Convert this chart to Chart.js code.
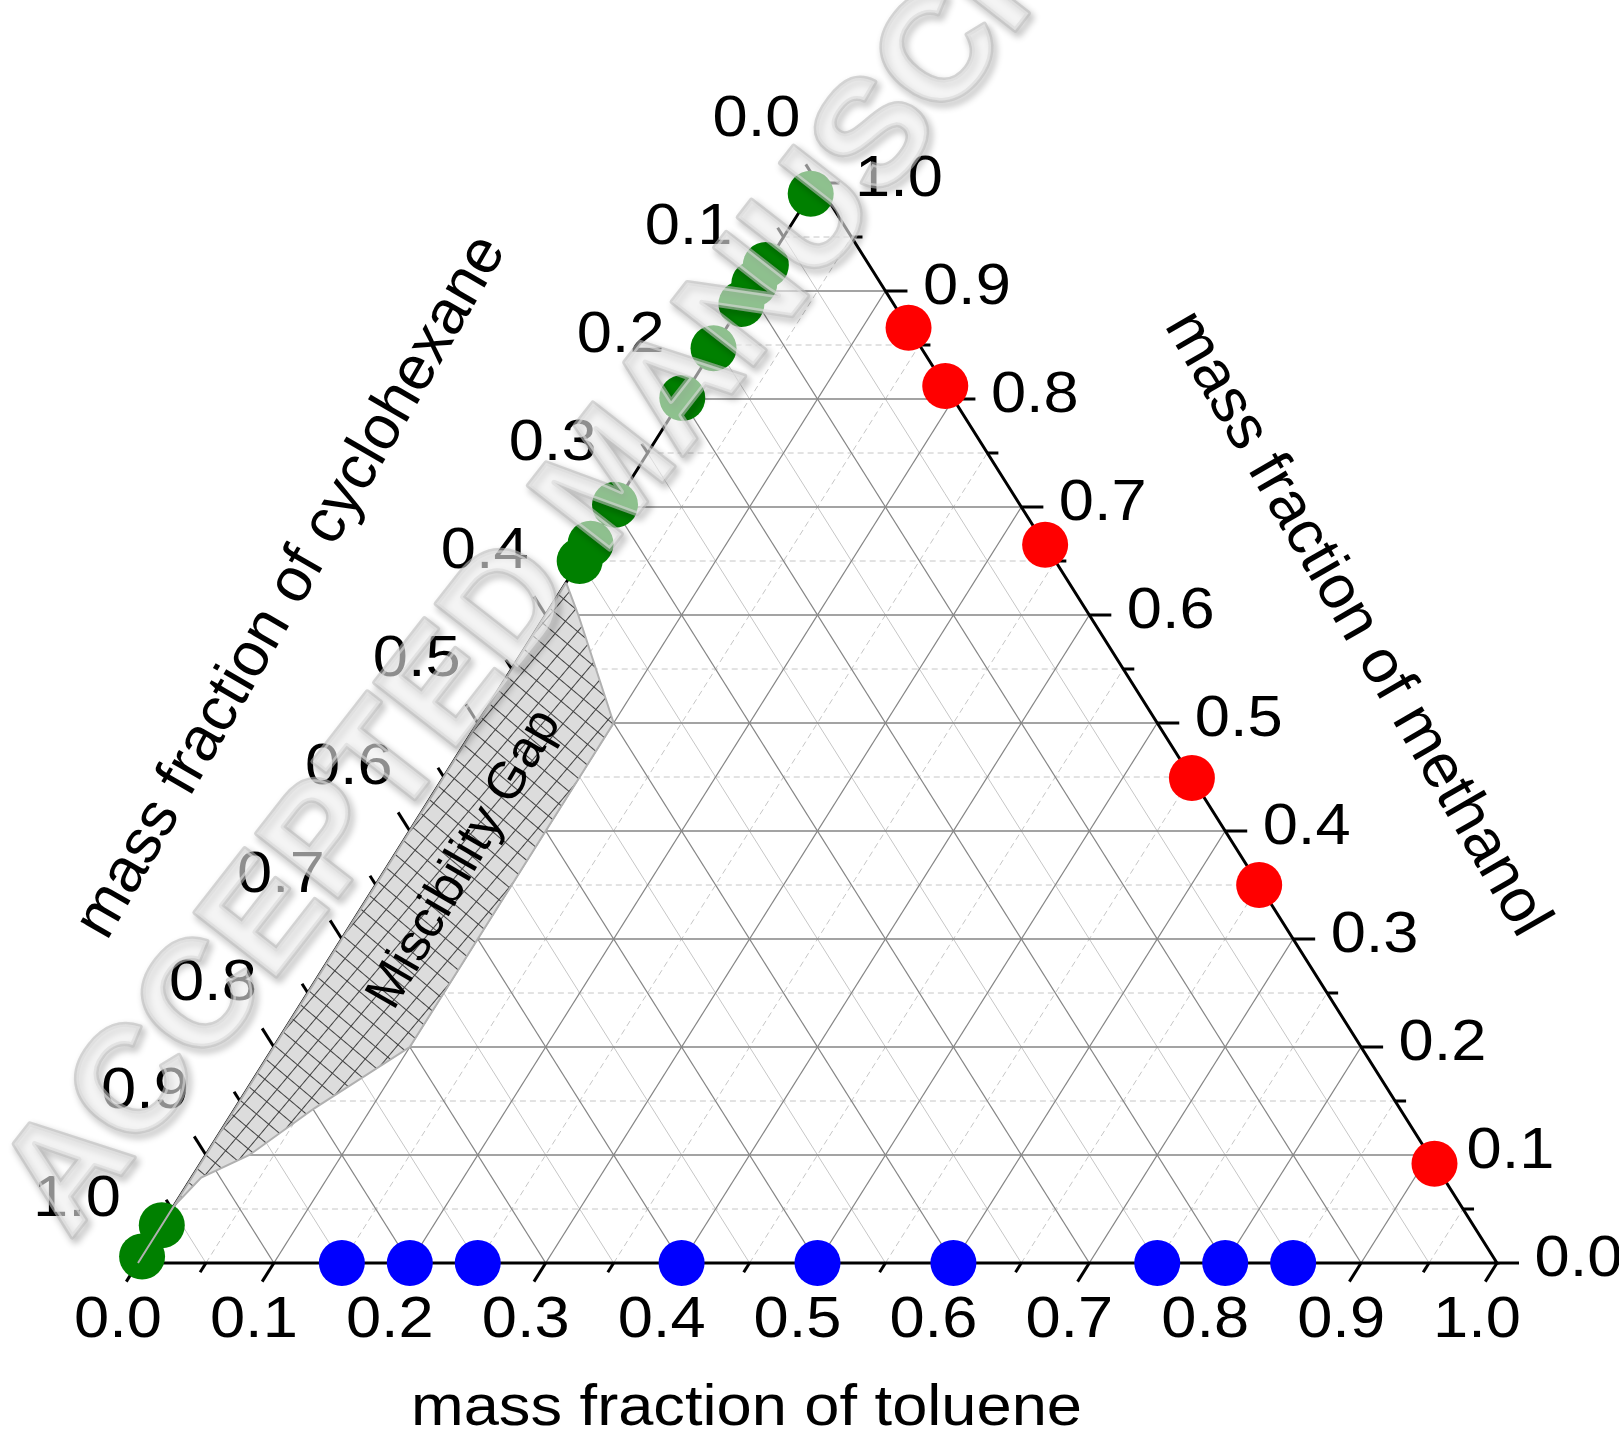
<!DOCTYPE html>
<html>
<head>
<meta charset="utf-8">
<script src="https://cdn.jsdelivr.net/npm/chart.js@4.4.0/dist/chart.umd.min.js"></script>
<style>
html,body{margin:0;padding:0;background:#ffffff;}
#wrap{width:1619px;height:1436px;position:relative;}
canvas{display:block;}
</style>
</head>
<body>
<div id="wrap"><canvas id="c" width="1619" height="1436"></canvas></div>
<script>
// ---------------- data ----------------
const tickValues = [0, 0.1, 0.2, 0.3, 0.4, 0.5, 0.6, 0.7, 0.8, 0.9, 1.0];
const tickLabels = ['0.0','0.1','0.2','0.3','0.4','0.5','0.6','0.7','0.8','0.9','1.0'];
const minorValues = [0.05, 0.15, 0.25, 0.35, 0.45, 0.55, 0.65, 0.75, 0.85, 0.95];

const titleBottom = 'mass fraction of toluene';
const titleLeft = 'mass fraction of cyclohexane';
const titleRight = 'mass fraction of methanol';
const gapLabel = 'Miscibility Gap';
const watermarkText = 'ACCEPTED MANUSCRIPT';

// cyclohexane + methanol binary (toluene = 0): methanol mass fraction
const greenMethanol = [0.99, 0.924, 0.907, 0.888, 0.847, 0.801, 0.702, 0.666, 0.650, 0.035, 0.006];
// toluene + methanol binary (cyclohexane = 0): methanol mass fraction
const redMethanol = [0.866, 0.812, 0.665, 0.449, 0.350, 0.092];
// cyclohexane + toluene binary (methanol = 0): toluene mass fraction
const blueToluene = [0.15, 0.20, 0.25, 0.40, 0.50, 0.60, 0.75, 0.80, 0.85];

// miscibility gap outline (toluene, methanol)
const gapToluene  = [0,    0.024, 0.10, 0.10, 0.10, 0.10, 0.10, 0.10, 0.058, 0.032, 0.007, 0,     0];
const gapMethanol = [0.63, 0.60,  0.50, 0.45, 0.40, 0.35, 0.25, 0.20, 0.143, 0.10,  0.079, 0.052, 0];

// ---------------- helpers ----------------
// ternary (toluene t, methanol m) -> cartesian for the chart's linear scales
function tern(t, m) { return { x: t + m / 2, y: m }; }

const S = 1.0894;           // horizontal stretch of the original figure's tick text
const FONT = '"Liberation Sans", Arial, Helvetica, sans-serif';

const datasets = [];
function lineDS(pts, color, width, dash, order) {
  datasets.push({
    data: pts, showLine: true, borderColor: color, borderWidth: width,
    borderDash: dash || [], pointRadius: 0, fill: false, order: order,
    clip: false, tension: 0
  });
}

// grid lines
const majorInner = tickValues.filter(v => v > 0 && v < 1);
const GRID_MAJOR = '#858585', GRID_MINOR = '#c6c6c6';
minorValues.forEach(v => {
  lineDS([tern(0, v), tern(1 - v, v)], GRID_MINOR, 1, [6, 4], 60);        // const methanol
  lineDS([tern(v, 0), tern(v, 1 - v)], GRID_MINOR, 1, [6, 4], 60);        // const toluene
  lineDS([tern(1 - v, 0), tern(0, 1 - v)], GRID_MINOR, 1, [], 60);        // const cyclohexane
});
majorInner.forEach(v => {
  lineDS([tern(0, v), tern(1 - v, v)], GRID_MAJOR, 1.3, [], 50);
  lineDS([tern(v, 0), tern(v, 1 - v)], GRID_MAJOR, 1.3, [], 50);
  lineDS([tern(1 - v, 0), tern(0, 1 - v)], GRID_MAJOR, 1.3, [], 50);
});

// axes
datasets.push({
  data: [tern(0, 0), tern(1, 0), tern(0, 1), tern(0, 0)], showLine: true,
  borderColor: '#000', borderWidth: 3, pointRadius: 0, fill: false, order: 30,
  clip: false, borderJoinStyle: 'miter'
});
// ticks
const DB_MAJ = 0.01725, DB_MIN = 0.0086, DR_MAJ = 0.0162, DR_MIN = 0.0081;
function addTicks(vals, db, dr) {
  vals.forEach(v => {
    lineDS([tern(v, 0), tern(v, -db)], '#000', 3, [], 30);                 // toluene (bottom)
    lineDS([tern(1 - v, v), tern(1 - v + dr, v)], '#000', 3, [], 30);      // methanol (right)
    lineDS([tern(0, 1 - v), tern(-db, 1 - v + db)], '#000', 3, [], 30);    // cyclohexane (left)
  });
}
addTicks(tickValues, DB_MAJ, DR_MAJ);
addTicks(minorValues, DB_MIN, DR_MIN);

// hatch pattern for the miscibility gap
function makeHatch() {
  const s = 16;
  const c = document.createElement('canvas');
  c.width = s; c.height = s;
  const g = c.getContext('2d');
  g.fillStyle = '#dcdcdc'; g.fillRect(0, 0, s, s);
  g.strokeStyle = '#404040'; g.lineWidth = 1;
  g.beginPath(); g.moveTo(0, 0.5); g.lineTo(s, 0.5); g.moveTo(0.5, 0); g.lineTo(0.5, s); g.stroke();
  const p = document.getElementById('c').getContext('2d').createPattern(c, 'repeat');
  if (p.setTransform) p.setTransform(new DOMMatrix().rotateSelf(40));
  return p;
}
const gapPts = gapToluene.map((t, i) => tern(t, gapMethanol[i]));
gapPts.push(gapPts[0]);
datasets.push({
  data: gapPts, showLine: true, borderColor: '#b0b0b0', borderWidth: 2,
  backgroundColor: makeHatch(), fill: 'shape', pointRadius: 0, order: 0, clip: false
});

// data points
function pointDS(pts, color) {
  datasets.push({
    data: pts, showLine: false, pointRadius: 23, pointBackgroundColor: color,
    pointBorderWidth: 0, pointBorderColor: color, backgroundColor: color, borderColor: color,
    order: 5, clip: false
  });
}
pointDS(greenMethanol.map(m => tern(0, m)), '#008000');
pointDS(redMethanol.map(m => tern(1 - m, m)), '#ff0000');
pointDS(blueToluene.map(t => tern(t, 0)), '#0000ff');

// ---------------- text plugin ----------------
function drawText(ctx, text, x, y, angDeg, size, align, baseline, stretch) {
  ctx.save();
  ctx.translate(x, y);
  ctx.scale(stretch === undefined ? S : stretch, 1);
  ctx.rotate(angDeg * Math.PI / 180);
  ctx.font = size + 'px ' + FONT;
  ctx.textAlign = align; ctx.textBaseline = baseline;
  ctx.fillStyle = '#000';
  ctx.fillText(text, 0, 0);
  ctx.restore();
}

const ternaryText = {
  id: 'ternaryText',
  afterDatasetsDraw(chart) {
    const ctx = chart.ctx, xs = chart.scales.x, ys = chart.scales.y;
    const P = p => [xs.getPixelForValue(p.x), ys.getPixelForValue(p.y)];
    tickValues.forEach((v, i) => {
      let [X, Y] = P(tern(v, 0));
      drawText(ctx, tickLabels[i], X - 20, Y + 58, 0, 58, 'center', 'middle');
      [X, Y] = P(tern(1 - v, v));
      drawText(ctx, tickLabels[i], X + 37.5, Y - 3, 0, 58, 'left', 'middle');
      [X, Y] = P(tern(0, 1 - v));
      drawText(ctx, tickLabels[i], X - 61, Y - 63, 0, 58, 'center', 'middle');
    });
    let [X, Y] = P(tern(0.5, 0));
    drawText(ctx, titleBottom, X - 71, Y + 146, 0, 58, 'center', 'middle');
    [X, Y] = P(tern(0, 0.5));
    drawText(ctx, titleLeft, X - 186, Y - 136, -60, 62, 'center', 'middle', 1);
    [X, Y] = P(tern(0.5, 0.5));
    drawText(ctx, titleRight, X + 199, Y - 99, 60, 62, 'center', 'middle', 1);
    [X, Y] = P(tern(0.06, 0.37));
    drawText(ctx, gapLabel, X - 6, Y - 4, -60, 52, 'center', 'middle', 1);
  },
  afterDraw(chart) {
    const ctx = chart.ctx;
    ctx.save();
    ctx.translate(70, 1240);
    ctx.rotate(-52 * Math.PI / 180);
    ctx.font = 'bold 150px ' + FONT;
    ctx.textAlign = 'left'; ctx.textBaseline = 'alphabetic';
    ctx.globalAlpha = 0.6;
    ctx.lineJoin = 'round';
    ctx.shadowColor = 'rgba(0,0,0,0.5)';
    ctx.shadowBlur = 7; ctx.shadowOffsetX = 3; ctx.shadowOffsetY = 4;
    ctx.strokeStyle = '#bdbdbd'; ctx.lineWidth = 5;
    ctx.strokeText(watermarkText, 0, 0);
    ctx.shadowColor = 'transparent';
    ctx.fillStyle = '#ececec';
    ctx.fillText(watermarkText, 0, 0);
    ctx.restore();
  }
};

new Chart(document.getElementById('c'), {
  type: 'line',
  data: { datasets: datasets },
  options: {
    responsive: false,
    devicePixelRatio: 1,
    animation: false,
    events: [],
    layout: { padding: { left: 138, right: 122, top: 183, bottom: 173 } },
    scales: {
      x: { type: 'linear', min: 0, max: 1, display: false },
      y: { type: 'linear', min: 0, max: 1, display: false }
    },
    plugins: { legend: { display: false }, tooltip: { enabled: false } }
  },
  plugins: [ternaryText]
});
</script>
</body>
</html>
